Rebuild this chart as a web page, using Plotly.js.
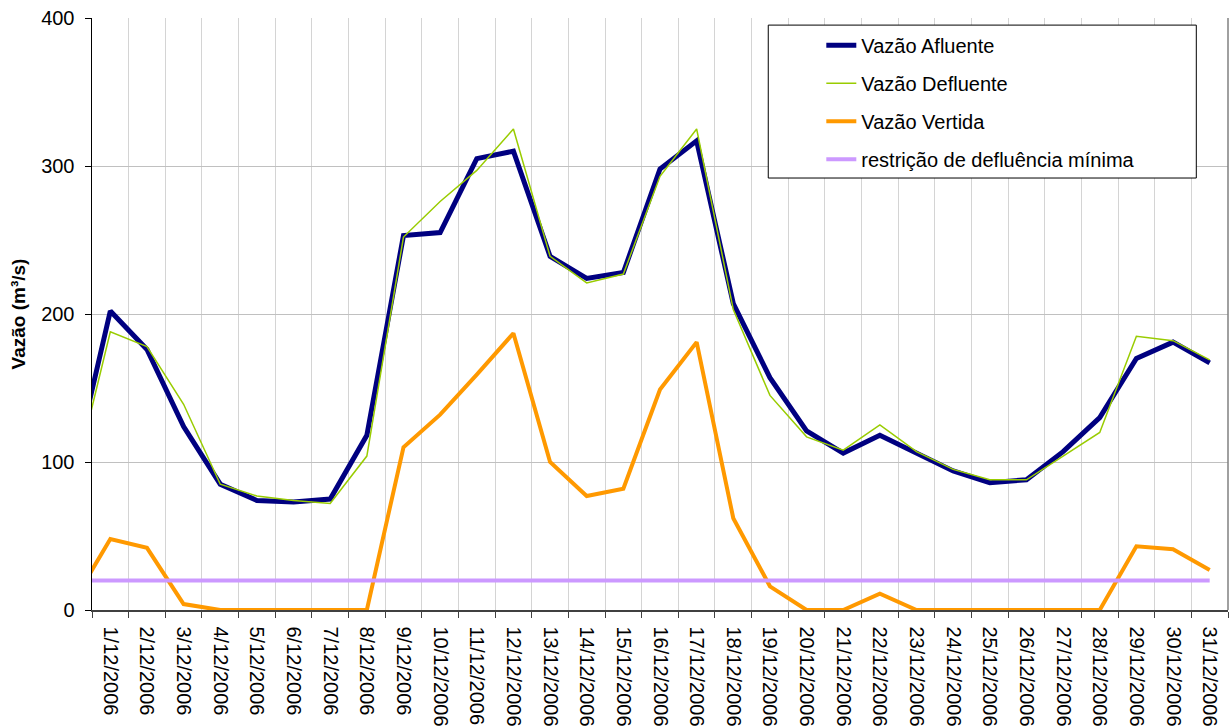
<!DOCTYPE html>
<html>
<head>
<meta charset="utf-8">
<script src="https://cdn.plot.ly/plotly-3.0.1.min.js"></script>
<style>html,body{margin:0;padding:0;background:#fff;}#chart{width:1232px;height:728px;}</style>
</head>
<body>
<div id="chart"></div>
<script>
// Categories: the first (30/11/2006) lies just left of the visible range (line enters from the left edge)
const dates = ["30/11/2006","1/12/2006","2/12/2006","3/12/2006","4/12/2006","5/12/2006","6/12/2006","7/12/2006","8/12/2006","9/12/2006","10/12/2006","11/12/2006","12/12/2006","13/12/2006","14/12/2006","15/12/2006","16/12/2006","17/12/2006","18/12/2006","19/12/2006","20/12/2006","21/12/2006","22/12/2006","23/12/2006","24/12/2006","25/12/2006","26/12/2006","27/12/2006","28/12/2006","29/12/2006","30/12/2006","31/12/2006"];
const vazaoAfluente  = [95, 202, 176, 124, 85, 74, 73, 75, 118, 253, 255, 305, 310, 239, 224, 228, 298, 317, 207, 157, 121, 106, 118, 106, 94, 86, 88, 107, 130, 170, 181, 167];
const vazaoDefluente = [86, 188, 178, 139, 85, 77, 74, 72, 104, 252, 276, 297, 325, 239, 221, 227, 293, 325, 203, 145, 117, 108, 125, 107, 95, 88, 88, 104, 120, 185, 182, 169];
const vazaoVertida   = [6, 48, 42, 4, 0, 0, 0, 0, 0, 110, 132, 159, 187, 100, 77, 82, 149, 181, 62, 16, 0, 0, 11, 0, 0, 0, 0, 0, 0, 43, 41, 27];
const restricao      = [20, 20, 20, 20, 20, 20, 20, 20, 20, 20, 20, 20, 20, 20, 20, 20, 20, 20, 20, 20, 20, 20, 20, 20, 20, 20, 20, 20, 20, 20, 20, 20];
const yTicks = [0, 100, 200, 300, 400];

const FONT = "Arial, 'Liberation Sans', sans-serif";

const traces = [
  {x: dates, y: vazaoAfluente, name: "Vazão Afluente", mode: "lines", legendgroup: "a",
   line: {color: "#000080", width: 5}},
  {x: dates, y: vazaoDefluente, name: "Vazão Defluente", mode: "lines", legendgroup: "b",
   line: {color: "#99cc00", width: 1.5}},
  {x: dates, y: vazaoVertida, name: "Vazão Vertida", mode: "lines", legendgroup: "c",
   line: {color: "#ff9900", width: 4}},
  {x: dates, y: restricao, name: "restrição de defluência mínima", mode: "lines", legendgroup: "d",
   line: {color: "#cc99ff", width: 4}}
];

const layout = {
  width: 1232, height: 728,
  margin: {l: 92, r: 4, t: 18, b: 118},
  paper_bgcolor: "#ffffff", plot_bgcolor: "#ffffff",
  font: {family: FONT, size: 20, color: "#000"},
  showlegend: true,
  legend: {
    x: 0.642, xanchor: "left", y: 0.987, yanchor: "top",
    bgcolor: "rgba(0,0,0,0)", borderwidth: 0,
    font: {family: FONT, size: 20, color: "#000"},
    tracegroupgap: 9, itemwidth: 30
  },
  xaxis: {
    type: "category", range: [0.5, 31.5],
    tickson: "boundaries", ticks: "outside", ticklen: 6, tickcolor: "#404040",
    tickangle: 90, ticklabelstandoff: 11,
    showgrid: true, gridcolor: "#d4d4d4", gridwidth: 1,
    showline: true, linecolor: "#404040", linewidth: 1.5,
    tickfont: {family: FONT, size: 20, color: "#000"}, fixedrange: true
  },
  yaxis: {
    range: [0, 400], tickvals: yTicks, ticktext: yTicks.map(String),
    ticks: "outside", ticklen: 6, tickcolor: "#000", ticklabelstandoff: 6,
    showgrid: true, gridcolor: "#c0c0c0", gridwidth: 1,
    showline: true, linecolor: "#000", linewidth: 1.5, zeroline: false,
    tickfont: {family: FONT, size: 20, color: "#000"},
    title: {text: "<b>Vazão (m³/s)</b>", font: {family: FONT, size: 19, color: "#000"}, standoff: 10},
    fixedrange: true
  },
  shapes: [
    {type: "line", xref: "paper", yref: "paper", x0: 1, x1: 1, y0: 0, y1: 1,
     line: {color: "#808080", width: 1.5}},
    {type: "rect", xref: "paper", yref: "paper", layer: "above",
     x0: 0.5953, x1: 0.9721, y0: 0.7297, y1: 0.988,
     fillcolor: "#ffffff", line: {color: "#000", width: 1}}
  ]
};

Plotly.newPlot("chart", traces, layout, {displayModeBar: false, staticPlot: true});
</script>
</body>
</html>
